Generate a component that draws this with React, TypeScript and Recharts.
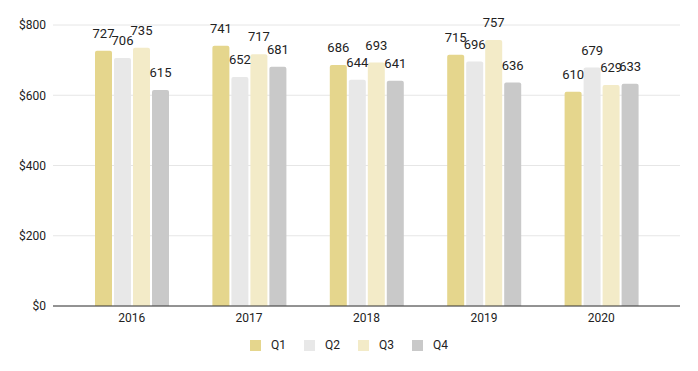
import React from 'react';
import { BarChart, Bar, XAxis, YAxis, CartesianGrid, Legend, LabelList } from 'recharts';

const years = ['2016', '2017', '2018', '2019', '2020'];
const q1 = [727, 741, 686, 715, 610];
const q2 = [706, 652, 644, 696, 679];
const q3 = [735, 717, 693, 757, 629];
const q4 = [615, 681, 641, 636, 633];
const yTicks = [0, 200, 400, 600, 800];

const series = [
  { key: 'Q1', values: q1, color: '#e5d68d' },
  { key: 'Q2', values: q2, color: '#e8e8e8' },
  { key: 'Q3', values: q3, color: '#f3ebc8' },
  { key: 'Q4', values: q4, color: '#c9c9c9' },
];

const data = years.map((y, i) => {
  const row: any = { year: y };
  series.forEach((s) => { row[s.key] = s.values[i]; });
  return row;
});

const font = 'Roboto, Arial, sans-serif';

const LegendContent = () => (
  <div style={{ display: 'flex', justifyContent: 'center', alignItems: 'center', height: 18, fontSize: 12, fontFamily: font, color: '#222' }}>
    {series.map((s, i) => (
      <div key={s.key} style={{ display: 'flex', alignItems: 'center', marginLeft: i === 0 ? 0 : 18 }}>
        <div style={{ width: 11, height: 11, background: s.color, marginRight: 10 }} />
        <span>{s.key}</span>
      </div>
    ))}
  </div>
);

export default function App() {
  return (
    <div style={{ position: 'absolute', left: 0, top: 0, fontFamily: font }}>
      <BarChart
        width={698}
        height={371}
        data={data}
        margin={{ top: 25, right: 18, left: 0, bottom: 17 }}
        barSize={17}
        barGap={2}
      >
        <CartesianGrid vertical={false} stroke="#e6e6e6" />
        <XAxis
          dataKey="year"
          padding={{ left: 20, right: 20 }}
          tickLine={false}
          tickSize={0}
          tickMargin={7}
          stroke="#333"
          height={30}
          tick={{ fill: '#222', fontSize: 12, fontFamily: font }}
        />
        <YAxis
          domain={[0, 800]}
          ticks={yTicks}
          width={53}
          axisLine={false}
          tickLine={false}
          tickSize={0}
          tickMargin={7}
          tickFormatter={(v: number) => `$${v}`}
          tick={{ fill: '#222', fontSize: 12, fontFamily: font }}
        />
        <Legend
          verticalAlign="bottom"
          wrapperStyle={{ left: 0, width: 698, height: 18 }}
          content={<LegendContent />}
        />
        {series.map((s) => (
          <Bar key={s.key} dataKey={s.key} fill={s.color} radius={[2, 2, 0, 0]} isAnimationActive={false}>
            <LabelList dataKey={s.key} position="top" offset={13} fill="#222" fontSize={13} fontFamily={font} />
          </Bar>
        ))}
      </BarChart>
    </div>
  );
}
